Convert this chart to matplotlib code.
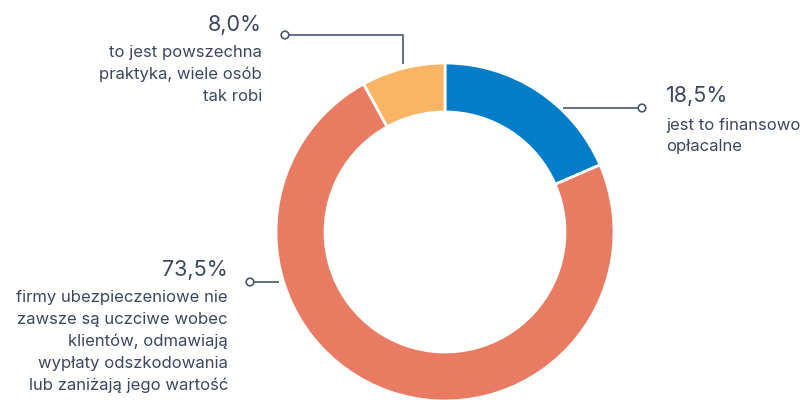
import matplotlib.pyplot as plt
from matplotlib.patches import Circle

# data
shares = [18.5, 73.5, 8.0]
pct_labels = ["18,5%", "73,5%", "8,0%"]
descriptions = [
    ["jest to finansowo", "opłacalne"],
    ["firmy ubezpieczeniowe nie", "zawsze są uczciwe wobec", "klientów, odmawiają",
     "wypłaty odszkodowania", "lub zaniżają jego wartość"],
    ["to jest powszechna", "praktyka, wiele osób", "tak robi"],
]
colors = ["#047DC8", "#E97B63", "#F9B563"]

W, H = 809, 400
txt_color = "#3B4760"
line_color = "#4A5670"
plt.rcParams['font.family'] = ['Inter', 'DejaVu Sans']

fig = plt.figure(figsize=(W / 100, H / 100), dpi=100)
ax = fig.add_axes([0, 0, 1, 1])
ax.set_xlim(0, W)
ax.set_ylim(0, H)
ax.set_aspect('equal')
ax.axis('off')

cx, cy, R = 445, H - 232, 169
ax.pie(shares, colors=colors, startangle=90, counterclock=False,
       center=(cx, cy), radius=R, frame=True,
       wedgeprops=dict(width=49, edgecolor='white', linewidth=2))
ax.set_xlim(0, W)
ax.set_ylim(0, H)
ax.axis('off')

# leader lines (pixel coords, y from top)
def Y(y):
    return H - y

def leader(xs, ys, dot):
    ax.plot(xs, [Y(v) for v in ys], color=line_color, lw=1.2, solid_capstyle='butt', zorder=3)
    ax.add_patch(Circle((dot[0], Y(dot[1])), 3.8, facecolor='white',
                        edgecolor=line_color, lw=1.2, zorder=4))

leader([563, 638], [108, 108], (642, 108))
leader([279, 254], [282, 282], (250, 282))
leader([403, 403, 289], [64, 35, 35], (285, 35))

# labels: (x, pct baseline, first desc baseline, step, align)
label_pos = [
    (666, 102, 130, 20.5, 'left'),
    (228, 276, 302, 22, 'right'),
    (262, 31, 57, 22, 'right'),
]
for (x, yb, y0, step, ha), pct, desc in zip(label_pos, pct_labels, descriptions):
    ax.text(x, Y(yb), pct, fontsize=15.5, color=txt_color, ha=ha, va='baseline')
    for i, line in enumerate(desc):
        ax.text(x, Y(y0 + i * step), line, fontsize=12, color=txt_color,
                ha=ha, va='baseline')

fig.savefig("out.png", dpi=100)
